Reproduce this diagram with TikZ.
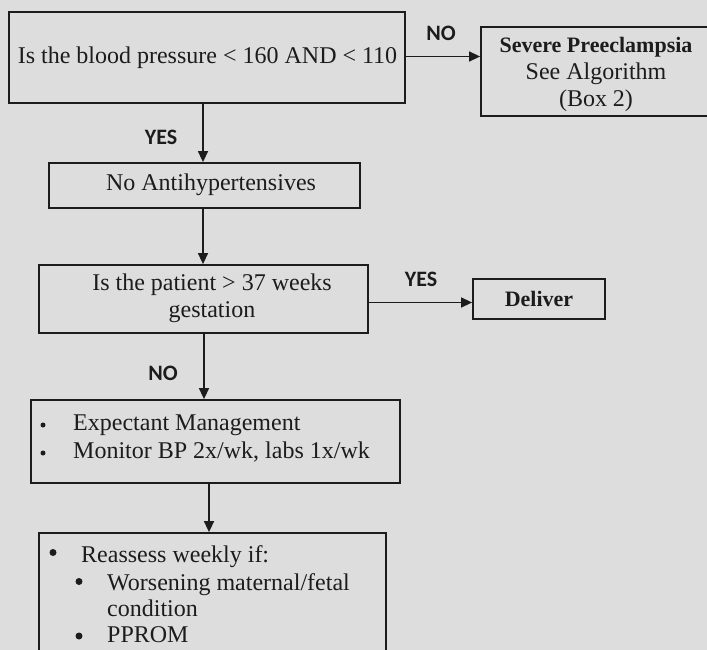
\documentclass[tikz,border=0pt]{standalone}
\usepackage{fontspec}
\setmainfont{Liberation Serif}
\newfontfamily\lblfont{Carlito}
\usetikzlibrary{arrows.meta,calc}
\definecolor{bg}{RGB}{220,221,220}
\definecolor{ink}{RGB}{28,28,28}
\begin{document}
\begin{tikzpicture}[x=1pt,y=-1pt,
  box/.style={draw=ink, line width=1.8pt, inner sep=0pt},
  txt/.style={text=ink, inner sep=0pt, font=\fontsize{24}{27}\selectfont},
  btxt/.style={text=ink, inner sep=0pt, font=\fontsize{22}{26}\selectfont\bfseries},
  lbl/.style={text=ink, inner sep=0pt, font=\fontsize{22}{26}\lblfont\bfseries},
  arr/.style={draw=ink, line width=1.5pt, -{Triangle[length=11pt,width=10pt]}},
  smalldot/.style={fill=ink, circle, inner sep=0pt, minimum size=5pt},
  bigdot/.style={fill=ink, circle, inner sep=0pt, minimum size=7pt},
]
\fill[bg] (0,0) rectangle (707,650);
\useasboundingbox (0,0) rectangle (707,650);
\clip (0,0) rectangle (707,650);

% boxes
\node[box, minimum width=396pt, minimum height=91pt] (b1) at (207,57.5) {};
\node[txt] (t1) at (207.5,58) {Is the blood pressure < 160 AND < 110};

\node[box, minimum width=229pt, minimum height=89pt] (b2) at (595.5,71.5) {};
\node[txt, align=center] (t2) at (596,74) {{\fontsize{22}{26}\selectfont\bfseries Severe Preeclampsia}\\See Algorithm\\(Box 2)};

\node[box, minimum width=311pt, minimum height=45pt] (b3) at (204.5,185.5) {};
\node[txt] (t3) at (211,185) {No Antihypertensives};

\node[box, minimum width=329pt, minimum height=68pt] (b4) at (203.5,299) {};
\node[txt, align=center] (t4) at (212,298.5) {Is the patient > 37 weeks\\gestation};

\node[box, btxt, minimum width=132pt, minimum height=40pt] (dl) at (539,299) {Deliver};

\node[box, minimum width=369pt, minimum height=83pt] (b5) at (215.5,441.5) {};
\node[smalldot] (d5a) at (43,425) {};
\node[smalldot] (d5b) at (43,453) {};
\node[txt, anchor=base west] (t5a) at (73,430) {Expectant Management};
\node[txt, anchor=base west] (t5b) at (73,458) {Monitor BP 2x/wk, labs 1x/wk};

\node[box, minimum width=347pt, minimum height=140pt] (b6) at (212.5,603) {};
\node[bigdot] (d6a) at (53,552.5) {};
\node[bigdot] (d6b) at (79,581.5) {};
\node[bigdot] (d6c) at (79,636) {};
\node[txt, anchor=base west] (t6a) at (81,562) {Reassess weekly if:};
\node[txt, anchor=base west] (t6b) at (107,590) {Worsening maternal/fetal};
\node[txt, anchor=base west] (t6c) at (107,616) {condition};
\node[txt, anchor=base west] (t6d) at (107,642) {PPROM};

% labels
\node[lbl] (lno1) at (441,33) {NO};
\node[lbl] (lyes1) at (161,137) {YES};
\node[lbl] (lyes2) at (421,279) {YES};
\node[lbl] (lno2) at (163,373) {NO};

% connectors
\coordinate (xa) at (203,0);
\coordinate (xb) at (204,0);
\coordinate (xc) at (209,0);
\coordinate (ya) at (0,56.5);
\coordinate (yb) at (0,302.5);
\draw[arr] (b1.south -| xa) -- (b3.north -| xa);
\draw[arr] (b3.south -| xa) -- (b4.north -| xa);
\draw[arr] (b4.south -| xb) -- (b5.north -| xb);
\draw[arr] (b5.south -| xc) -- (b6.north -| xc);
\draw[arr] (b1.east |- ya) -- (b2.west |- ya);
\draw[arr] (b4.east |- yb) -- (dl.west |- yb);
\end{tikzpicture}
\end{document}
